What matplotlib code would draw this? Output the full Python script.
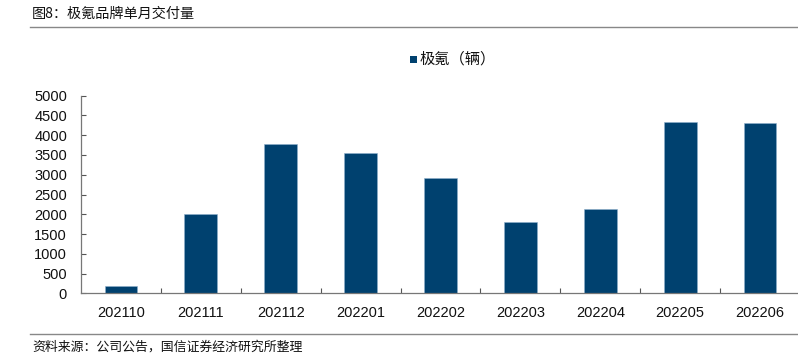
import matplotlib
matplotlib.use("Agg")
import matplotlib.pyplot as plt
from matplotlib.lines import Line2D
from matplotlib.patches import Rectangle

plt.rcParams['font.family'] = ['Liberation Sans', 'Noto Sans CJK SC', 'DejaVu Sans']

categories = ["202110", "202111", "202112", "202201", "202202", "202203", "202204", "202205", "202206"]
values = [185, 2007, 3790, 3545, 2912, 1797, 2126, 4327, 4302]
series_name = "极氪（辆）"
title = "图8：极氪品牌单月交付量"
source = "资料来源：公司公告，国信证券经济研究所整理"
yticks = [0, 500, 1000, 1500, 2000, 2500, 3000, 3500, 4000, 4500, 5000]

W, H = 798, 355
fig = plt.figure(figsize=(W / 100, H / 100), dpi=100)
bar_color = "#00416F"

ax = fig.add_axes([81 / W, (H - 293.3) / H, (800 - 81) / W, (293.3 - 95.7) / H])
x = list(range(len(categories)))
ax.bar(x, values, width=0.41, color=bar_color, edgecolor="#8fb0cc", linewidth=0.4, zorder=2)
ax.set_xlim(-0.5, len(categories) - 0.5)
ax.set_ylim(0, 5000)
ax.set_yticks(yticks)
ax.set_yticklabels([str(v) for v in yticks], fontsize=10.5, color="#111111")
ax.set_xticks(x)
ax.set_xticklabels(categories, fontsize=10.5, color="#111111")
ax.tick_params(axis='x', which='major', length=0, pad=9)
ax.set_xticks([i + 0.5 for i in x[:-1]], minor=True)
ax.tick_params(axis='x', which='minor', direction='in', length=3.5, color="#555555", width=0.8)
ax.tick_params(axis='y', direction='in', length=3.5, color="#555555", width=0.8, pad=10)
for s in ["top", "right"]:
    ax.spines[s].set_visible(False)
for s in ["left", "bottom"]:
    ax.spines[s].set_color("#777777")
    ax.spines[s].set_linewidth(0.9)

# legend
fig.patches.append(Rectangle((410 / W, (H - 63) / H), 7 / W, 7 / H, transform=fig.transFigure,
                             facecolor=bar_color, edgecolor="none"))
fig.text(420 / W, (H - 59) / H, series_name, fontsize=11, va="center", ha="left",
         family=['Noto Sans CJK SC', 'DejaVu Sans'], color="#111111")

# title & source
fig.text(32 / W, (H - 14) / H, title, fontsize=10.2, va="center", ha="left",
         family=['Noto Sans CJK SC', 'DejaVu Sans'], color="#111111")
fig.lines.append(Line2D([30 / W, 1.0], [(H - 27) / H] * 2, transform=fig.transFigure,
                        color="#888888", linewidth=1.0))
fig.lines.append(Line2D([30 / W, 1.0], [(H - 334) / H] * 2, transform=fig.transFigure,
                        color="#888888", linewidth=1.0))
fig.text(32 / W, (H - 347) / H, source, fontsize=9.3, va="center", ha="left",
         family=['Noto Sans CJK SC', 'DejaVu Sans'], color="#111111")

fig.savefig("out.png", dpi=100)
